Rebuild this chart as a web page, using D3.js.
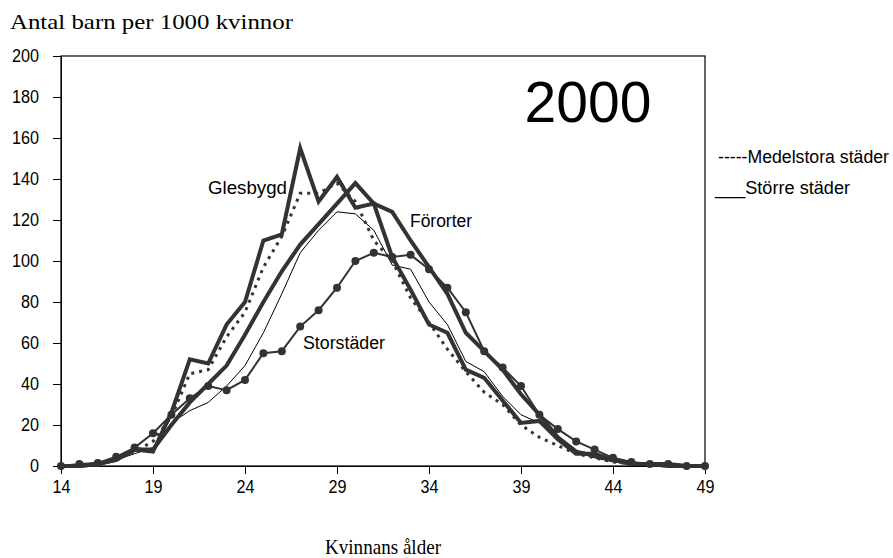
<!DOCTYPE html>
<html><head><meta charset="utf-8">
<script src="https://cdn.jsdelivr.net/npm/d3@7"></script>
<style>
body{margin:0;background:#fff;}
svg{display:block;}
.sans{font-family:"Liberation Sans",Arial,sans-serif;}
.serif{font-family:"Liberation Serif","Times New Roman",serif;}
</style></head><body>
<svg id="c" width="893" height="558"></svg>
<script>
const ages = d3.range(14, 50);
const xTickLabels = [14, 19, 24, 29, 34, 39, 44, 49];
const yTickLabels = [0, 20, 40, 60, 80, 100, 120, 140, 160, 180, 200];

const glesbygd    = [0,0,1,3,8,7,26,52,50,69,80,110,113,155,129,141,126,128,102,86,69,65,47,43,32,21,22,13,6,6,3,1,1,1,0,0];
const medelstora  = [0,0.5,1,3,7,12,24,45,47,63,75,97,112,133,133,138,129,110,100,82,70,57,46,36,30,20,14,10,6,4,2,1,0.5,0,0,0];
const fororter    = [0,0,1,3,8,8,20,31,40,49,64,80,95,108,118,128,138,128,124,110,97,84,65,56,47,35,25,14,7,5,3,1,1,0,0,0];
const storre      = [0,0,1,3,6,9,21,27,31,39,49,65,84,104,115,124,123,115,98,96,80,69,51,46,34,25,21,14,7,4,2,1,0,0,0,0];
const storstader  = [0,1,1.5,4.5,9,16,25,33,39,37,42,55,56,68,76,87,100,104,102,103,96,87,75,56,48,39,25,18,12,8,4,2,1,1,0,0];

const svg = d3.select("#c");
const L = 61, R = 705, T = 56, B = 466;
const x = d3.scaleLinear().domain([14, 49]).range([L, R]);
const y = d3.scaleLinear().domain([0, 200]).range([B, T]);

// frame
svg.append("rect").attr("x", L).attr("y", T).attr("width", R - L).attr("height", B - T)
  .attr("fill", "none").attr("stroke", "#000").attr("stroke-width", 1.2);

// y axis
const yAxis = svg.append("g").attr("transform", `translate(${L},0)`)
  .call(d3.axisLeft(y).tickValues(yTickLabels).tickSize(8).tickPadding(14));
yAxis.select(".domain").attr("stroke", "#000");
yAxis.selectAll("text").attr("class", "sans").style("font-size", "18px").attr("fill", "#000")
  .attr("textLength", d => String(d).length * 9).attr("lengthAdjust", "spacingAndGlyphs");

// x axis
const xAxis = svg.append("g").attr("transform", `translate(0,${B})`)
  .call(d3.axisBottom(x).tickValues(xTickLabels).tickSize(8).tickPadding(6));
xAxis.select(".domain").attr("stroke", "#000");
xAxis.selectAll("text").attr("class", "sans").style("font-size", "18px").attr("fill", "#000")
  .attr("textLength", d => String(d).length * 9).attr("lengthAdjust", "spacingAndGlyphs");

const line = d3.line().x((d, i) => x(ages[i])).y(d => y(d));

svg.append("path").datum(storre).attr("d", line).attr("fill", "none")
  .attr("stroke", "#000").attr("stroke-width", 1);
svg.append("path").datum(medelstora).attr("d", line).attr("fill", "none")
  .attr("stroke", "#333").attr("stroke-width", 3).attr("stroke-dasharray", "3,5");
svg.append("path").datum(fororter).attr("d", line).attr("fill", "none")
  .attr("stroke", "#333").attr("stroke-width", 4).attr("stroke-linejoin", "miter");
svg.append("path").datum(glesbygd).attr("d", line).attr("fill", "none")
  .attr("stroke", "#333").attr("stroke-width", 4).attr("stroke-linejoin", "miter");
svg.append("path").datum(storstader).attr("d", line).attr("fill", "none")
  .attr("stroke", "#333").attr("stroke-width", 2);
svg.selectAll("circle.m").data(storstader).enter().append("circle").attr("class", "m")
  .attr("cx", (d, i) => x(ages[i])).attr("cy", d => y(d)).attr("r", 4).attr("fill", "#333");

// texts
svg.append("text").attr("class", "serif").attr("x", 10).attr("y", 29)
  .style("font-size", "21px").attr("fill", "#000")
  .attr("textLength", 283).attr("lengthAdjust", "spacingAndGlyphs")
  .text("Antal barn per 1000 kvinnor");
svg.append("text").attr("class", "serif").attr("x", 383).attr("y", 554).attr("text-anchor", "middle")
  .style("font-size", "21px").attr("fill", "#000")
  .attr("textLength", 116).attr("lengthAdjust", "spacingAndGlyphs")
  .text("Kvinnans ålder");
svg.append("text").attr("class", "sans").attr("x", 588).attr("y", 122).attr("text-anchor", "middle")
  .style("font-size", "57px").attr("fill", "#000").text("2000");

const labs = [["Glesbygd", 208, 194, 79], ["Förorter", 410, 227, 62], ["Storstäder", 303, 349, 82]];
labs.forEach(l => svg.append("text").attr("class", "sans").attr("x", l[1]).attr("y", l[2])
  .style("font-size", "18px").attr("fill", "#000")
  .attr("textLength", l[3]).attr("lengthAdjust", "spacingAndGlyphs").text(l[0]));

svg.append("text").attr("class", "sans").attr("x", 718).attr("y", 163)
  .style("font-size", "18px").attr("fill", "#000")
  .attr("textLength", 171).attr("lengthAdjust", "spacingAndGlyphs")
  .text("-----Medelstora städer");
svg.append("text").attr("class", "sans").attr("x", 715).attr("y", 194)
  .style("font-size", "18px").attr("fill", "#000")
  .attr("textLength", 135).attr("lengthAdjust", "spacingAndGlyphs")
  .text("___Större städer");
</script>
</body></html>
